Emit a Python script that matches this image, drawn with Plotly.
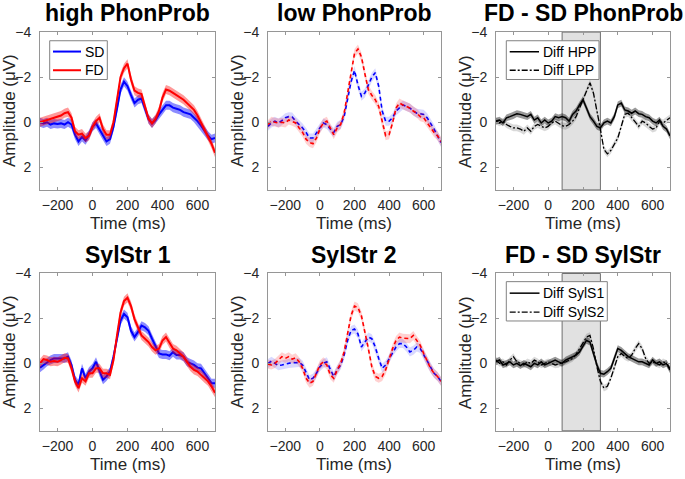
import numpy as np
import plotly.graph_objects as go

# ---------------- data (µV), time in ms ----------------
time_ms = list(range(-300, 701, 20))

hpp_sd = [0.0, 0.05, 0.0, 0.1, 0.05, 0.08, 0.05, 0.1, 0.0, 0.1, 0.55, 0.85, 0.65, 0.8, 0.55,
          0.2, 0.05, 0.3, 0.6, 0.85, 0.75, 0.2, -0.6, -1.45, -1.8, -1.6, -1.2, -0.85, -1.0, -1.05,
          -0.6, -0.15, 0.05, -0.1, -0.35, -0.55, -0.75, -0.75, -0.65, -0.6, -0.55, -0.45, -0.4,
          -0.35, -0.2, -0.05, 0.15, 0.4, 0.6, 0.75, 0.7]
hpp_fd = [0.0, -0.05, -0.1, -0.15, -0.2, -0.25, -0.3, -0.4, -0.45, -0.2, 0.4, 0.55, 0.5, 0.7, 0.6,
          0.2, -0.05, -0.2, 0.3, 0.55, 0.55, 0.0, -1.0, -2.0, -2.4, -2.6, -1.9, -1.4, -1.3, -1.25,
          -0.7, -0.15, 0.05, -0.15, -0.5, -1.1, -1.45, -1.4, -1.3, -1.2, -1.1, -1.0, -0.85,
          -0.7, -0.55, -0.3, 0.0, 0.3, 0.6, 0.95, 1.35]
lpp_sd = [0.18, 0.03, -0.05, 0.03, -0.07, -0.2, -0.25, -0.23, -0.05, 0.1, 0.25, 0.45, 0.7, 0.7, 0.45,
          0.25, 0.03, 0.1, 0.3, 0.45, 0.18, 0.1, -0.25, -1.0, -1.8, -2.3, -1.65, -1.15, -1.3, -1.65,
          -2.0, -2.2, -1.6, -0.5, -0.05, -0.05, -0.2, -0.5, -0.63, -0.77, -0.7, -0.63, -0.5,
          -0.4, -0.38, -0.35, -0.2, 0.03, 0.3, 0.6, 0.9]
lpp_fd = [0.1, -0.05, 0.0, 0.03, 0.0, 0.03, -0.1, -0.05, 0.03, 0.25, 0.45, 0.75, 0.9, 0.95, 0.7,
          0.3, 0.03, -0.05, 0.25, 0.55, 0.25, 0.1, -0.4, -1.3, -2.3, -3.05, -3.25, -2.9, -2.15, -1.45,
          -1.2, -1.0, -0.7, 0.03, 0.6, 0.55, 0.03, -0.63, -0.85, -0.77, -0.7, -0.63, -0.5,
          -0.4, -0.25, -0.2, 0.03, 0.25, 0.45, 0.6, 0.85]
diff_hpp = [-0.05, -0.1, 0.03, -0.2, -0.25, -0.3, -0.38, -0.35, -0.3, -0.25, -0.35, -0.1, -0.2, 0.03, -0.1,
            0.03, -0.05, -0.25, -0.2, -0.25, -0.2, -0.05, -0.35, -0.5, -0.77, -1.0, -0.63, -0.25, -0.05, 0.18,
            0.25, 0.03, -0.05, 0.03, -0.25, -0.77, -0.85, -0.55, -0.5, -0.4, -0.5, -0.38, -0.35,
            -0.25, -0.2, -0.05, 0.03, -0.1, 0.18, 0.3, 0.6]
diff_lpp = [-0.05, 0.03, -0.05, 0.1, 0.18, 0.25, 0.25, 0.3, 0.4, 0.25, 0.4, 0.18, 0.1, 0.18, 0.25,
            0.18, 0.03, -0.05, 0.06, 0.15, 0.18, 0.1, -0.05, -0.25, -0.63, -1.0, -1.45, -1.75, -1.3, -0.55,
            0.3, 1.2, 1.4, 1.25, 0.95, 0.7, 0.18, -0.35, -0.4, -0.2, -0.05, 0.18, -0.05,
            0.03, 0.18, 0.3, 0.25, -0.05, 0.03, -0.1, -0.2]
syl1_sd = [0.19, 0.07, -0.07, -0.15, -0.22, -0.22, -0.25, -0.22, -0.3, 0.07, 0.73, 0.95, 0.22, 0.66, 0.37,
           0.22, -0.07, 0.37, 0.73, 0.58, 0.37, -0.3, -1.1, -1.9, -2.2, -2.05, -1.45, -1.17, -1.4, -1.68,
           -1.6, -1.45, -1.1, -0.73, -0.44, -0.4, -0.4, -0.34, -0.5, -0.37, -0.37, -0.3, -0.07,
           0.0, 0.07, 0.19, 0.22, 0.44, 0.66, 0.88, 0.88]
syl1_fd = [0.0, -0.19, -0.15, -0.07, -0.1, -0.07, -0.15, -0.25, -0.22, 0.22, 0.8, 1.1, 0.66, 0.8, 0.44,
           0.44, 0.22, 0.22, 0.44, 0.44, 0.51, -0.15, -1.25, -2.26, -2.77, -2.92, -2.55, -1.97, -1.6, -1.24,
           -1.1, -0.95, -0.73, -0.58, -0.66, -1.02, -1.17, -0.88, -0.66, -0.58, -0.44, -0.3, -0.07,
           0.15, 0.29, 0.36, 0.51, 0.66, 0.8, 1.02, 1.31]
syl2_sd = [0.0, -0.1, 0.0, 0.1, 0.07, 0.04, 0.0, -0.04, -0.03, -0.04, 0.07, 0.37, 0.73, 0.66, 0.44,
           0.15, 0.0, -0.07, 0.22, 0.58, 0.29, 0.07, -0.37, -1.02, -1.46, -1.53, -1.31, -0.73, -0.95, -1.17,
           -1.1, -0.73, -0.22, 0.22, 0.07, -0.22, -0.51, -0.73, -0.88, -0.88, -0.73, -0.51, -0.58,
           -0.73, -0.66, -0.37, -0.07, 0.22, 0.44, 0.58, 0.8]
syl2_fd = [0.04, 0.07, 0.0, -0.15, -0.3, -0.22, -0.3, -0.19, -0.25, -0.07, 0.22, 0.66, 0.88, 0.8, 0.44,
           0.07, -0.07, 0.07, 0.51, 0.66, 0.29, 0.0, -0.51, -1.31, -2.12, -2.55, -2.48, -2.12, -1.46, -0.66,
           0.15, 0.58, 0.66, 0.58, 0.29, -0.22, -0.66, -1.02, -1.17, -1.12, -1.1, -1.1, -1.24,
           -1.02, -0.8, -0.44, -0.07, 0.22, 0.44, 0.58, 0.8]
diff_syl1 = [-0.07, -0.15, 0.07, 0.0, -0.07, 0.07, 0.0, 0.1, 0.0, 0.07, 0.15, 0.0, 0.07, -0.07, 0.07,
             0.0, -0.07, -0.15, -0.07, 0.0, -0.15, -0.22, -0.3, -0.37, -0.51, -0.8, -1.02, -0.95, -0.44, 0.07,
             0.44, 0.48, 0.37, 0.22, -0.22, -0.66, -0.58, -0.44, -0.3, -0.22, -0.15, -0.07, -0.07,
             0.0, 0.07, -0.15, 0.0, -0.07, 0.07, 0.0, 0.29]
diff_syl2 = [-0.15, 0.0, -0.07, 0.07, -0.15, -0.3, -0.07, 0.0, 0.07, -0.07, 0.0, -0.15, -0.07, 0.07, 0.0,
             -0.07, 0.0, 0.07, 0.04, -0.04, -0.07, -0.15, -0.22, -0.4, -0.66, -0.95, -1.17, -1.24, -0.66, 0.15,
             0.8, 1.1, 1.02, 0.66, 0.22, -0.3, -0.44, -0.3, -0.22, -0.37, -0.66, -0.88, -0.66,
             -0.22, 0.0, -0.07, 0.0, 0.07, -0.07, 0.0, 0.22]

# standard-error half widths (µV)
sem_sd = 0.2
sem_fd = 0.2
sem_diff_solid = 0.15
sem_diff_dash = 0.15

window_ms = [80, 300]  # analysis window shaded in difference plots

titles = ["high PhonProb", "low PhonProb", "FD - SD PhonProb",
          "SylStr 1", "SylStr 2", "FD - SD SylStr"]
x_ticks = [-200, 0, 200, 400, 600]
y_ticks = [-4, -2, 0, 2]
legend_sets = [["SD", "FD"], ["Diff HPP", "Diff LPP"], ["Diff SylS1", "Diff SylS2"]]

# ---------------- layout geometry (pixels) ----------------
W, H = 685, 479
cols_px = [(40, 215), (268, 441), (496, 670)]
rows_px = [(24.5, 185), (270, 430)]

FONT = "Liberation Sans, Arial, sans-serif"
TXT = "rgb(38,38,38)"
FRAME = "rgb(150,150,150)"
BLUE, RED = "rgb(0,0,255)", "rgb(255,0,0)"
DASH = "4px,3px"
DASHDOT = "6px,2px,2px,2px"

fig = go.Figure()
t = np.array(time_ms)


def band(ax, y, sem, fill):
    y = np.array(y)
    fig.add_trace(go.Scatter(
        x=np.concatenate([t, t[::-1]]), y=np.concatenate([y - sem, (y + sem)[::-1]]),
        fill="toself", fillcolor=fill, line=dict(width=0), mode="lines",
        hoverinfo="skip", showlegend=False, xaxis="x" + ax, yaxis="y" + ax))


def line(ax, y, color, width, dash, name):
    fig.add_trace(go.Scatter(
        x=t, y=y, mode="lines", line=dict(color=color, width=width, dash=dash),
        name=name, showlegend=False, xaxis="x" + ax, yaxis="y" + ax))


# panel 1
band("", hpp_sd, sem_sd, "rgba(0,0,255,0.45)")
line("", hpp_sd, BLUE, 2, "solid", "SD")
band("", hpp_fd, sem_fd, "rgba(255,0,0,0.4)")
line("", hpp_fd, RED, 2, "solid", "FD")
# panel 2
band("2", lpp_sd, sem_sd, "rgba(0,0,255,0.15)")
line("2", lpp_sd, BLUE, 1.6, DASH, "SD")
band("2", lpp_fd, sem_fd, "rgba(255,0,0,0.18)")
line("2", lpp_fd, RED, 1.6, DASH, "FD")
# panel 3
band("3", diff_hpp, sem_diff_solid, "rgba(0,0,0,0.4)")
line("3", diff_hpp, "black", 1.5, "solid", "Diff HPP")
band("3", diff_lpp, sem_diff_dash, "rgba(0,0,0,0.15)")
line("3", diff_lpp, "black", 1.3, DASHDOT, "Diff LPP")
# panel 4
band("4", syl1_sd, sem_sd, "rgba(0,0,255,0.45)")
line("4", syl1_sd, BLUE, 2, "solid", "SD")
band("4", syl1_fd, sem_fd, "rgba(255,0,0,0.4)")
line("4", syl1_fd, RED, 2, "solid", "FD")
# panel 5
band("5", syl2_sd, sem_sd, "rgba(0,0,255,0.15)")
line("5", syl2_sd, BLUE, 1.6, DASH, "SD")
band("5", syl2_fd, sem_fd, "rgba(255,0,0,0.18)")
line("5", syl2_fd, RED, 1.6, DASH, "FD")
# panel 6
band("6", diff_syl1, sem_diff_solid, "rgba(0,0,0,0.4)")
line("6", diff_syl1, "black", 1.5, "solid", "Diff SylS1")
band("6", diff_syl2, sem_diff_dash, "rgba(0,0,0,0.15)")
line("6", diff_syl2, "black", 1.3, DASHDOT, "Diff SylS2")

layout = dict(width=W, height=H, margin=dict(l=0, r=0, t=0, b=0), autosize=False,
              paper_bgcolor="white", plot_bgcolor="white", showlegend=False,
              font=dict(family=FONT, size=14, color=TXT))
annotations = []
shapes = []
for i in range(6):
    r, c = divmod(i, 3)
    suf = "" if i == 0 else str(i + 1)
    x0, x1 = cols_px[c]
    y0, y1 = rows_px[r]
    xd = [x0 / W, x1 / W]
    yd = [1 - y1 / H, 1 - y0 / H]
    common = dict(showline=True, linecolor=FRAME, linewidth=1, mirror="ticks",
                  ticks="inside", ticklen=3, tickcolor=FRAME, showgrid=False, zeroline=False,
                  tickfont=dict(size=14, color=TXT, family=FONT), fixedrange=True)
    layout["xaxis" + suf] = dict(domain=xd, range=[-300, 700], tickvals=x_ticks,
                                 anchor="y" + suf, ticklabelstandoff=2, **common)
    layout["yaxis" + suf] = dict(domain=yd, range=[3, -4], tickvals=y_ticks,
                                 anchor="x" + suf, ticklabelstandoff=5, **common)
    xc = (x0 + x1) / 2
    annotations.append(dict(text="<b>" + titles[i] + "</b>", x=xc / W, y=1 - (y0 - 19) / H,
                            xref="paper", yref="paper", xanchor="center", yanchor="middle",
                            showarrow=False, font=dict(size=23, color="black", family=FONT)))
    annotations.append(dict(text="Time (ms)", x=xc / W, y=1 - (y1 + 34) / H,
                            xref="paper", yref="paper", xanchor="center", yanchor="middle",
                            showarrow=False, font=dict(size=17, color=TXT, family=FONT)))
    annotations.append(dict(text="Amplitude (μV)", x=(x0 - 31) / W, y=1 - (y0 + y1) / 2 / H,
                            xref="paper", yref="paper", xanchor="center", yanchor="middle",
                            textangle=-90, showarrow=False,
                            font=dict(size=17, color=TXT, family=FONT)))
    if c == 2:
        shapes.append(dict(type="rect", xref="x" + suf, yref="y" + suf + " domain",
                           x0=window_ms[0], x1=window_ms[1], y0=0, y1=1, layer="below",
                           fillcolor="rgb(225,225,225)",
                           line=dict(color="rgb(110,110,110)", width=1)))

# ---------------- legends (box, line samples, labels) ----------------
legend_specs = [
    dict(box=(49.7, 107.3, 33.3, 72.7), sx=(53, 81), tx=83, ys=(44.3, 63.3),
         colors=(BLUE, RED), dashes=("solid", "solid"), widths=(2, 2), names=legend_sets[0]),
    dict(box=(506.3, 599, 33.3, 72.7), sx=(509.7, 539), tx=541, ys=(44.5, 63.3),
         colors=("black", "black"), dashes=("solid", DASHDOT), widths=(1.5, 1.3), names=legend_sets[1]),
    dict(box=(506.3, 607.3, 278.3, 318.3), sx=(509.7, 539.5), tx=541, ys=(290, 309.3),
         colors=("black", "black"), dashes=("solid", DASHDOT), widths=(1.5, 1.3), names=legend_sets[2]),
]
for spec in legend_specs:
    bx0, bx1, by0, by1 = spec["box"]
    shapes.append(dict(type="rect", xref="paper", yref="paper", x0=bx0 / W, x1=bx1 / W,
                       y0=1 - by1 / H, y1=1 - by0 / H, fillcolor="white",
                       line=dict(color="rgb(130,130,130)", width=1), layer="above"))
    for yy, col, dsh, wd, nm in zip(spec["ys"], spec["colors"], spec["dashes"],
                                    spec["widths"], spec["names"]):
        shapes.append(dict(type="line", xref="paper", yref="paper",
                           x0=spec["sx"][0] / W, x1=spec["sx"][1] / W,
                           y0=1 - yy / H, y1=1 - yy / H, layer="above",
                           line=dict(color=col, width=wd, dash=dsh)))
        annotations.append(dict(text=nm, x=spec["tx"] / W, y=1 - yy / H, xref="paper",
                                yref="paper", xanchor="left", yanchor="middle", showarrow=False,
                                font=dict(size=14, color="black", family=FONT)))

layout["annotations"] = annotations
layout["shapes"] = shapes
fig.update_layout(**layout)

fig.write_html("out.html", config={"displayModeBar": False, "staticPlot": True},
               post_script="document.body.style.margin='0px';")
